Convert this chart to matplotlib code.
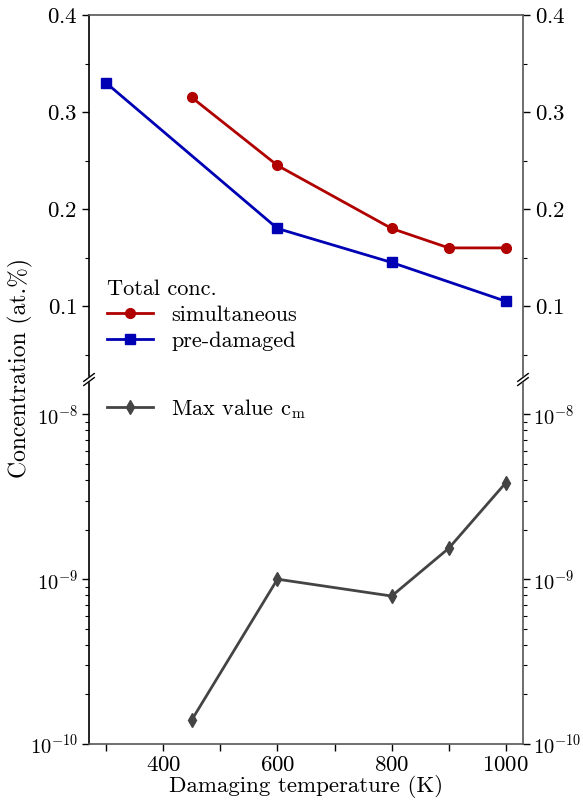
import matplotlib
matplotlib.use("Agg")
import matplotlib.pyplot as plt
from matplotlib.ticker import MultipleLocator, LogLocator, NullFormatter, FixedLocator

plt.rcParams.update({
    "font.family": "serif",
    "font.serif": ["cmr10"],
    "mathtext.fontset": "cm",
    "axes.formatter.use_mathtext": True,
    "axes.unicode_minus": False,
    "font.size": 16,
})

# Damaging temperatures (K)
temp_sim = [450, 600, 800, 900, 1000]
temp_pre = [300, 600, 800, 1000]
temp_max = [450, 600, 800, 900, 1000]

# Total concentration (at.%)
conc_sim = [0.315, 0.245, 0.18, 0.16, 0.16]
conc_pre = [0.33, 0.18, 0.145, 0.105]

# Maximum value c_m
cmax = [1.4e-10, 1.0e-9, 7.9e-10, 1.54e-9, 3.85e-9]

x_ticks = [400, 600, 800, 1000]
x_minor = [300, 500, 700, 900]
log_ticks = [1e-10, 1e-9, 1e-8]

red = "#b00000"
blue = "#0000b4"
grey = "#444444"
spine_grey = "#555555"

fig = plt.figure(figsize=(5.83, 8.05), dpi=100)
L, R = 89 / 583, 523 / 583
ax1 = fig.add_axes([L, 1 - 376 / 805, R - L, (376 - 15) / 805])
ax2 = fig.add_axes([L, 1 - 744 / 805, R - L, (744 - 383) / 805], sharex=ax1)

lw = 2.0
ax1.plot(temp_sim, conc_sim, "-o", color=red, lw=lw, ms=7, label="simultaneous")
ax1.plot(temp_pre, conc_pre, "-s", color=blue, lw=lw, ms=7, label="pre-damaged")
ax2.plot(temp_max, cmax, "-d", color=grey, lw=lw, ms=7, label=r"Max value $\mathrm{c_m}$")

ax1.set_ylim(0.028, 0.4)
ax1.yaxis.set_major_locator(FixedLocator([0.1, 0.2, 0.3, 0.4]))
ax1.yaxis.set_minor_locator(MultipleLocator(0.05))

ax2.set_yscale("log")
ax2.set_ylim(1e-10, 1.55e-8)
ax2.yaxis.set_major_locator(FixedLocator(log_ticks))
ax2.yaxis.set_minor_locator(LogLocator(base=10, subs=range(2, 10), numticks=20))
ax2.yaxis.set_minor_formatter(NullFormatter())

ax2.set_xlim(270, 1030)
ax2.set_xticks(x_ticks)
ax2.set_xticks(x_minor, minor=True)

for ax in (ax1, ax2):
    ax.tick_params(which="both", left=True, right=True, labelleft=True, labelright=True,
                   direction="out", colors="black", labelsize=16.5)
    ax.tick_params(which="major", length=5, width=1)
    ax.tick_params(which="minor", length=3, width=0.8)
    ax.spines["left"].set_color("black")
    for s in ("right", "top", "bottom"):
        ax.spines[s].set_color(spine_grey)
    for s in ax.spines.values():
        s.set_linewidth(1.2)

ax2.tick_params(axis="y", which="major", labelsize=14.8, pad=2.5)

ax1.spines["bottom"].set_visible(False)
ax2.spines["top"].set_visible(False)
ax1.tick_params(axis="x", which="both", bottom=False, top=False, labelbottom=False)
ax2.tick_params(axis="x", which="both", top=False, bottom=True)
ax2.tick_params(axis="x", which="minor", length=5, width=1)

# Broken-axis markers on both vertical spines
d = 0.012
kw = dict(color="black", clip_on=False, lw=1.0)
for xx in (0, 1):
    ax1.plot([xx - d, xx + d], [-d * 0.9 - 0.004, d * 0.9 - 0.004], transform=ax1.transAxes, **kw)
    ax2.plot([xx - d, xx + d], [1 - d * 0.9 + 0.004, 1 + d * 0.9 + 0.004], transform=ax2.transAxes, **kw)

leg1 = ax1.legend(title="Total conc.", loc="lower left", frameon=False,
                  bbox_to_anchor=(0.0, 0.02), handlelength=2.1, borderaxespad=0.4,
                  labelspacing=0.3, fontsize=16, title_fontsize=16)
leg1._legend_box.align = "left"
ax2.legend(loc="upper left", frameon=False, handlelength=2.1, bbox_to_anchor=(0.0, 1.01),
           borderaxespad=0.4, fontsize=16)

ax2.set_xlabel("Damaging temperature (K)", fontsize=16.5, labelpad=0)
fig.text(0.035, 0.543, "Concentration (at.%)", rotation=90, va="center", ha="center",
         fontsize=17)

fig.savefig("out.png", dpi=100)
